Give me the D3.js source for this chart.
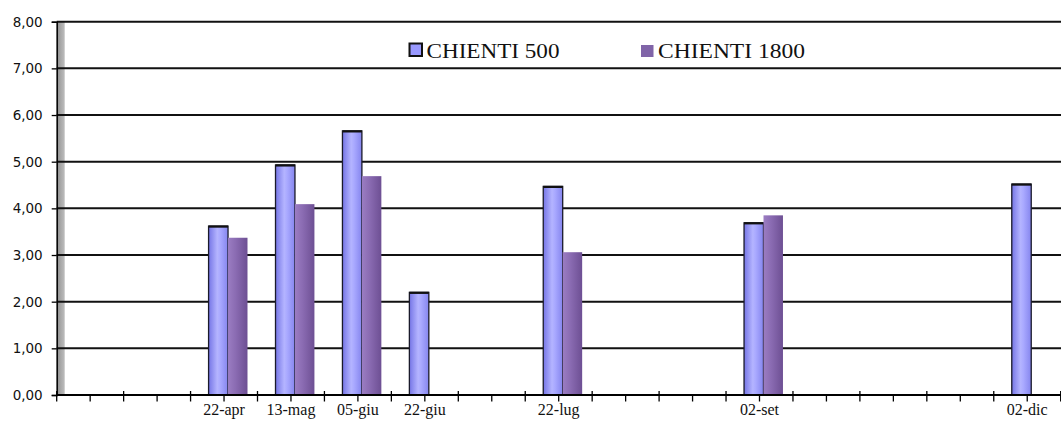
<!DOCTYPE html>
<html><head><meta charset="utf-8">
<script src="https://cdn.jsdelivr.net/npm/d3@7/dist/d3.min.js"></script>
<style>html,body{margin:0;padding:0;background:#fff;overflow:hidden}
.serif{font-family:"Liberation Serif","Times New Roman",serif}
</style>
</head><body>
<svg id="chart" width="1061" height="423"></svg>
<script>
// ---- data ----
const categories = ["", "", "22-apr", "13-mag", "05-giu", "22-giu", "", "22-lug", "", "", "02-set", "", "", "", "02-dic"];
const seriesNames = ["CHIENTI 500", "CHIENTI 1800"];
const chienti500  = [null, null, 3.62, 4.93, 5.66, 2.20, null, 4.47, null, null, 3.69, null, null, null, 4.52];
const chienti1800 = [null, null, 3.37, 4.09, 4.69, null, null, 3.06, null, null, 3.85, null, null, null, null];
const yTicks = [0, 1, 2, 3, 4, 5, 6, 7, 8];
const yTickLabels = ["0,00", "1,00", "2,00", "3,00", "4,00", "5,00", "6,00", "7,00", "8,00"];

(function () {
const svg = d3.select("#chart");
const pL = 56.7, pR = 1060.7, pT = 21.7, pB = 395;
const depth = 4;

const y = d3.scaleLinear().domain([0, 8]).range([pB, pT]);
const x = d3.scaleBand().domain(d3.range(categories.length)).range([pL, pR]).paddingInner(0).paddingOuter(0);
const xs = d3.scaleBand().domain([0, 1]).range([0, x.bandwidth()]).paddingInner(0).paddingOuter(0.72);

const defs = svg.append("defs");
function grad(id, stops) {
  const g = defs.append("linearGradient").attr("id", id).attr("x1", "0").attr("x2", "1").attr("y1", "0").attr("y2", "0");
  stops.forEach(([o, c]) => g.append("stop").attr("offset", o).attr("stop-color", c));
}
grad("gBlue", [[0, "#7575e6"], [0.45, "#b4b4ff"], [0.6, "#a9a9ff"], [1, "#8585ee"]]);
grad("gPurple", [[0, "#9b7dc2"], [0.4, "#8a6bb2"], [1, "#6d4f93"]]);
grad("gWall", [[0, "#8c8c8c"], [0.5, "#a8a8a8"], [1, "#bdbdbd"]]);

// wall
svg.append("rect").attr("x", pL).attr("y", pT).attr("width", 8).attr("height", pB - pT).attr("fill", "url(#gWall)");

// gridlines
svg.append("g").selectAll("line").data(yTicks.filter(d => d > 0)).join("line")
  .attr("x1", pL).attr("x2", 1061).attr("y1", d => y(d)).attr("y2", d => y(d))
  .attr("stroke", "#111").attr("stroke-width", 2);

// y axis
const yAxis = d3.axisLeft(y).tickValues(yTicks).tickFormat((d, i) => yTickLabels[i]).tickSize(5).tickPadding(9);
const yg = svg.append("g").attr("transform", `translate(${pL},0)`).call(yAxis);
yg.select(".domain").attr("stroke", "#000").attr("stroke-width", 1.5);
yg.selectAll(".tick line").attr("stroke", "#000").attr("stroke-width", 1.3);
yg.selectAll("text").attr("font-family", "DejaVu Sans").attr("font-size", 13.5).attr("fill", "#111");

// bars
const series = [chienti500, chienti1800];
const fills = ["url(#gBlue)", "url(#gPurple)"];
series.forEach((vals, si) => {
  const g = svg.append("g");
  const data = vals.map((v, i) => ({i, v})).filter(d => d.v != null);
  g.selectAll("rect").data(data).join("rect")
    .attr("x", d => x(d.i) + xs(si) + depth)
    .attr("y", d => y(d.v))
    .attr("width", xs.bandwidth())
    .attr("height", d => y(0) - y(d.v))
    .attr("fill", fills[si])
    .attr("stroke", si === 0 ? "#1a1a2a" : "none")
    .attr("stroke-width", 1.3);
  if (si === 0) {
    g.selectAll("line.top").data(data).join("line").attr("class", "top")
      .attr("x1", d => x(d.i) + xs(si) + depth).attr("x2", d => x(d.i) + xs(si) + depth + xs.bandwidth())
      .attr("y1", d => y(d.v) + 0.5).attr("y2", d => y(d.v) + 0.5)
      .attr("stroke", "#111").attr("stroke-width", 2.2);
  }
});

// x axis line
svg.append("line").attr("x1", pL).attr("x2", 1061).attr("y1", pB).attr("y2", pB).attr("stroke", "#000").attr("stroke-width", 1.8);
// major ticks (between categories)
const bounds = d3.range(categories.length + 1).map(i => i < categories.length ? x(i) : pR);
svg.append("g").selectAll("line").data(bounds).join("line")
  .attr("x1", d => d).attr("x2", d => d).attr("y1", pB - 4).attr("y2", pB + 6.5)
  .attr("stroke", "#000").attr("stroke-width", 1.3);
// minor ticks at category centres
svg.append("g").selectAll("line").data(d3.range(categories.length)).join("line")
  .attr("x1", d => x(d) + x.bandwidth() / 2).attr("x2", d => x(d) + x.bandwidth() / 2)
  .attr("y1", pB).attr("y2", pB + 6.5)
  .attr("stroke", "#000").attr("stroke-width", 1.3);
// category labels
svg.append("g").selectAll("text").data(d3.range(categories.length).filter(i => categories[i] !== "")).join("text")
  .attr("class", "serif")
  .attr("x", d => x(d) + x.bandwidth() / 2).attr("y", 415)
  .attr("text-anchor", "middle").attr("font-size", 16).attr("fill", "#111")
  .text(d => categories[d]);

// legend
const lg = svg.append("g");
lg.append("rect").attr("x", 409.5).attr("y", 43.5).attr("width", 12.5).attr("height", 12.5)
  .attr("fill", "#9999ff").attr("stroke", "#111").attr("stroke-width", 2);
lg.append("text").attr("class", "serif").attr("x", 426.5).attr("y", 57.5).attr("font-size", 22).attr("fill", "#111")
  .attr("textLength", 133).attr("lengthAdjust", "spacingAndGlyphs").text(seriesNames[0]);
lg.append("rect").attr("x", 641).attr("y", 45).attr("width", 12.5).attr("height", 12)
  .attr("fill", "#8064a8");
lg.append("text").attr("class", "serif").attr("x", 658).attr("y", 57.5).attr("font-size", 22).attr("fill", "#111")
  .attr("textLength", 147).attr("lengthAdjust", "spacingAndGlyphs").text(seriesNames[1]);
})();
</script>
</body></html>
